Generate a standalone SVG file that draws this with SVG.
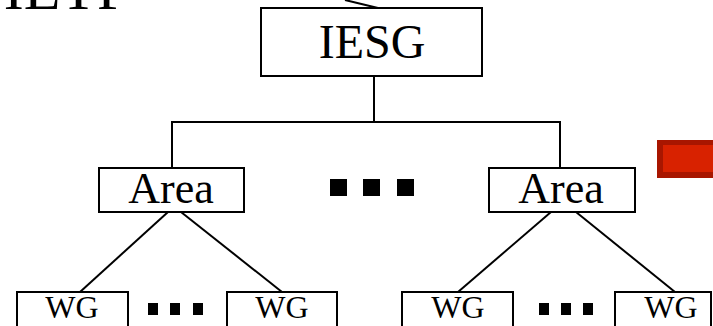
<svg xmlns="http://www.w3.org/2000/svg" width="713" height="326" viewBox="0 0 713 326">
<style>
.box{fill:#fff;stroke:#000;stroke-width:2}
.ln{stroke:#000;stroke-width:2;fill:none}
.t{font-family:"Liberation Serif","Times New Roman",serif;fill:#000;text-anchor:middle}
.sq{fill:#000}
</style>
<rect width="713" height="326" fill="#fff"/>
<text class="t" x="67" y="9" font-size="60">IETF</text>
<g id="connectors">
<line class="ln" x1="345" y1="0" x2="378" y2="8"/>
<polyline class="ln" points="374,76 374,122"/>
<polyline class="ln" points="172,168 172,122 560,122 560,168"/>
<line class="ln" x1="168" y1="212" x2="80" y2="292"/>
<line class="ln" x1="181" y1="212" x2="282" y2="292"/>
<line class="ln" x1="551" y1="212" x2="458" y2="292"/>
<line class="ln" x1="576" y1="212" x2="675" y2="292"/>
</g>
<g id="iesg">
<rect class="box" x="261" y="8" width="221" height="68"/>
<text class="t" x="372" y="58" font-size="48">IESG</text>
</g>
<g id="area1">
<rect class="box" x="99" y="168" width="145" height="44"/>
<text class="t" x="171" y="203" font-size="44">Area</text>
</g>
<g id="area2">
<rect class="box" x="489" y="168" width="146" height="44"/>
<text class="t" x="561" y="203" font-size="44">Area</text>
</g>
<g id="dots-mid">
<rect class="sq" x="330" y="179" width="17" height="17"/>
<rect class="sq" x="363" y="179" width="17" height="17"/>
<rect class="sq" x="397" y="179" width="17" height="17"/>
</g>
<g id="red-bar">
<rect x="657" y="140" width="60" height="38" fill="#a81600"/>
<rect x="663" y="145" width="54" height="27" fill="#d82200"/>
</g>
<g id="wg1">
<rect class="box" x="17" y="292" width="111" height="40"/>
<text class="t" x="72" y="318" font-size="32">WG</text>
</g>
<g id="wg2">
<rect class="box" x="227" y="292" width="110" height="40"/>
<text class="t" x="282" y="318" font-size="32">WG</text>
</g>
<g id="wg3">
<rect class="box" x="402" y="292" width="111" height="40"/>
<text class="t" x="458" y="318" font-size="32">WG</text>
</g>
<g id="wg4">
<rect class="box" x="615" y="292" width="96" height="40"/>
<text class="t" x="671" y="318" font-size="32">WG</text>
</g>
<g id="dots-left">
<rect class="sq" x="148" y="303" width="10" height="12"/>
<rect class="sq" x="170" y="303" width="10" height="12"/>
<rect class="sq" x="193" y="303" width="10" height="12"/>
</g>
<g id="dots-right">
<rect class="sq" x="539" y="303" width="10" height="12"/>
<rect class="sq" x="561" y="303" width="10" height="12"/>
<rect class="sq" x="583" y="303" width="10" height="12"/>
</g>
</svg>
